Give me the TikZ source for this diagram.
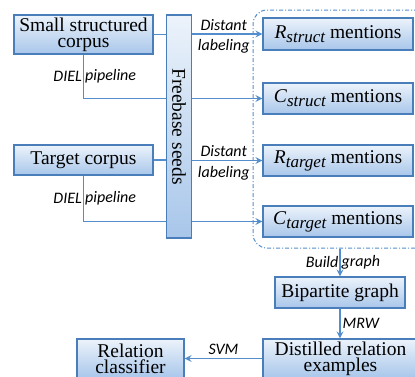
\documentclass[tikz,border=0pt]{standalone}
\usepackage{fontspec}
\setmainfont{Liberation Serif}
\newfontfamily\lblfont{Carlito}
\usepackage{xcolor}
\usepackage{tikz}
\usetikzlibrary{calc,arrows.meta}

\definecolor{boxline}{RGB}{74,126,187}
\definecolor{boxtop}{RGB}{236,243,251}
\definecolor{boxbot}{RGB}{168,198,234}
\definecolor{linkc}{RGB}{84,141,204}

\newcommand\mention[2]{\textit{#1}\raisebox{-4pt}{\fontsize{17}{17}\selectfont\itshape #2} mentions}

\tikzset{
  box/.style={draw=boxline,line width=1.2pt,top color=boxtop,bottom color=boxbot,
    inner sep=0pt,align=center,font=\fontsize{19.5}{16}\selectfont\rmfamily},
  link/.style={draw=linkc,line width=1.3pt},
  tip/.style={-{Stealth[length=7pt,width=7pt,inset=2.5pt]}},
  lab/.style={font=\fontsize{16}{16}\selectfont\lblfont\itshape,inner sep=3pt},
  grp/.style={draw=linkc,line width=1pt,rounded corners=14pt,
    dash pattern=on 4pt off 2pt on 1pt off 2pt}
}

\begin{document}
\begin{tikzpicture}[x=1pt,y=-1pt]
        \useasboundingbox (0,0) rectangle (415,376);

        % left column
        \node[box,minimum width=139pt,minimum height=39pt] (small) at (83.5,34.5) {Small structured\\corpus};
        \node[box,minimum width=139pt,minimum height=30pt] (target) at (83.5,160) {Target corpus};
        \node[box,minimum width=25pt,minimum height=223pt] (seeds) at (179,126.5) {\rotatebox{-90}{Freebase seeds}};

        % mentions
        \node[grp,minimum width=179pt,minimum height=238pt] (grp) at (342.5,129) {};
        \node[box,minimum width=150pt,minimum height=32pt] (Rs) at (338,34) {\mention{R}{struct}};
        \node[box,minimum width=150pt,minimum height=31pt] (Cs) at (338,98.5) {\mention{C}{struct}};
        \node[box,minimum width=150pt,minimum height=31pt] (Rt) at (338,160.5) {\mention{R}{target}};
        \node[box,minimum width=150pt,minimum height=31pt] (Ct) at (338,221.5) {\mention{C}{target}};

        % bottom
        \node[box,minimum width=130pt,minimum height=31pt] (bip) at (340,292.5) {Bipartite graph};
        \node[box,minimum width=155pt,minimum height=39pt] (dist) at (340.5,358.5) {Distilled relation\\examples};
        \node[box,minimum width=107pt,minimum height=39pt] (rel) at (130.5,358.5) {Relation\\classifier};

        \draw[link] (small.east) -- (seeds.west |- small.east);
        \draw[link] (target.east) -- (seeds.west |- target.east);
        \draw[link] (small.south) |- node[lab,pos=0.25,left,inner sep=1pt]{DIEL} node[lab,pos=0.25,right,inner sep=1pt]{pipeline} (seeds.west |- Cs.west);
        \draw[link] (target.south) |- node[lab,pos=0.25,left,inner sep=1pt]{DIEL} node[lab,pos=0.25,right,inner sep=1pt]{pipeline} (seeds.west |- Ct.west);

        \draw[link,tip] (seeds.east |- Rs.west) -- node[lab,pos=0.45,above]{Distant} node[lab,pos=0.45,below,inner sep=5pt]{labeling} (Rs.west);
        \draw[link,tip] (seeds.east |- Cs.west) -- (Cs.west);
        \draw[link,tip] (seeds.east |- Rt.west) -- node[lab,pos=0.45,above]{Distant} node[lab,pos=0.45,below,inner sep=5pt]{labeling} (Rt.west);
        \draw[link,tip] (seeds.east |- Ct.west) -- (Ct.west);

        \draw[link,tip] (bip.north |- grp.south) -- node[lab,left,inner sep=1pt]{Build} node[lab,right,inner sep=1pt]{graph} (bip.north);
        \draw[link,tip] (bip.south) -- node[lab,right,inner sep=2pt]{MRW} (bip.south |- dist.north);
        \draw[link,tip] (dist.west) -- node[lab,above]{SVM} (rel.east);
    \end{tikzpicture}
\end{document}
